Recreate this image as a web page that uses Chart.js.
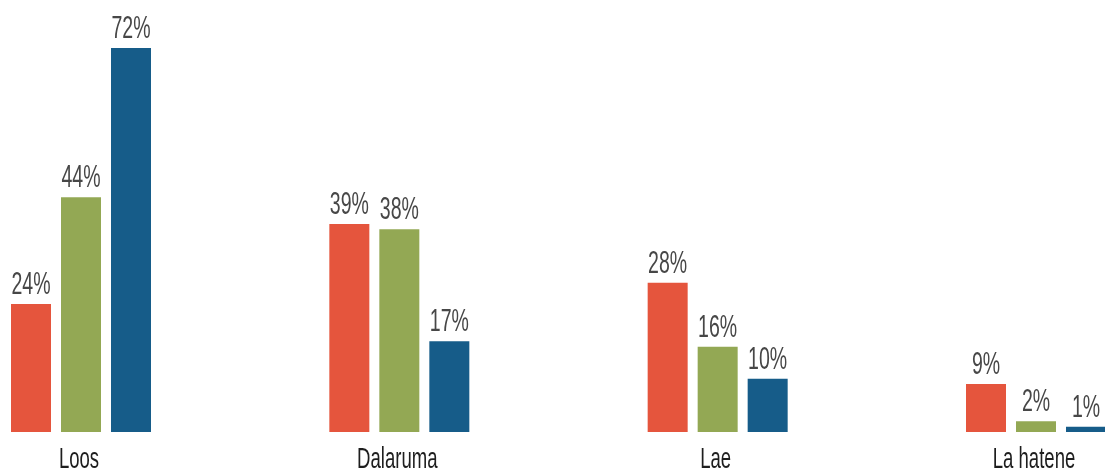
<!DOCTYPE html>
<html>
<head>
<meta charset="utf-8">
<script src="https://cdn.jsdelivr.net/npm/chart.js@4/dist/chart.umd.min.js"></script>
<style>
  html, body { margin: 0; padding: 0; background: #fff; }
</style>
</head>
<body>
<canvas id="chart" width="1105" height="472"></canvas>
<script>
// data
const categories = ["Loos", "Dalaruma", "Lae", "La hatene"];
const seriesA = [24, 39, 28, 9];
const seriesB = [44, 38, 16, 2];
const seriesC = [72, 17, 10, 1];
const barColors = ["#e5553d", "#93a854", "#165c89"];

const FONT = '"Liberation Sans", Arial, sans-serif';

// draws value labels + category names, squeezed to look like a condensed face
const labelPlugin = {
  id: "labels",
  afterDatasetsDraw(chart) {
    const ctx = chart.ctx;
    ctx.save();
    ctx.textAlign = "center";
    ctx.textBaseline = "alphabetic";

    ctx.font = "31px " + FONT;
    ctx.fillStyle = "#474747";
    chart.data.datasets.forEach((ds, i) => {
      chart.getDatasetMeta(i).data.forEach((bar, j) => {
        ctx.save();
        ctx.translate(bar.x, bar.y - 10);
        ctx.scale(0.63, 1);
        ctx.fillText(ds.data[j] + "%", 0, 0);
        ctx.restore();
      });
    });

    const x = chart.scales.x;
    ctx.font = "29px " + FONT;
    ctx.fillStyle = "#1e1e1e";
    categories.forEach((c, j) => {
      ctx.save();
      ctx.translate(x.getPixelForValue(j) - 2, 468);
      ctx.scale(0.64, 1);
      ctx.fillText(c, 0, 0);
      ctx.restore();
    });
    ctx.restore();
  }
};

new Chart(document.getElementById("chart"), {
  type: "bar",
  data: {
    labels: categories,
    datasets: [
      { label: "A", data: seriesA, backgroundColor: barColors[0] },
      { label: "B", data: seriesB, backgroundColor: barColors[1] },
      { label: "C", data: seriesC, backgroundColor: barColors[2] }
    ]
  },
  options: {
    responsive: false,
    animation: false,
    layout: { padding: { left: 81, right: 69, top: 0, bottom: 40 } },
    datasets: {
      bar: { categoryPercentage: 0.4712, barPercentage: 0.8, clip: false }
    },
    plugins: { legend: { display: false }, tooltip: { enabled: false } },
    scales: {
      x: { offset: false, display: false },
      y: { display: false, min: 0, max: 81 }
    }
  },
  plugins: [labelPlugin]
});
</script>
</body>
</html>
